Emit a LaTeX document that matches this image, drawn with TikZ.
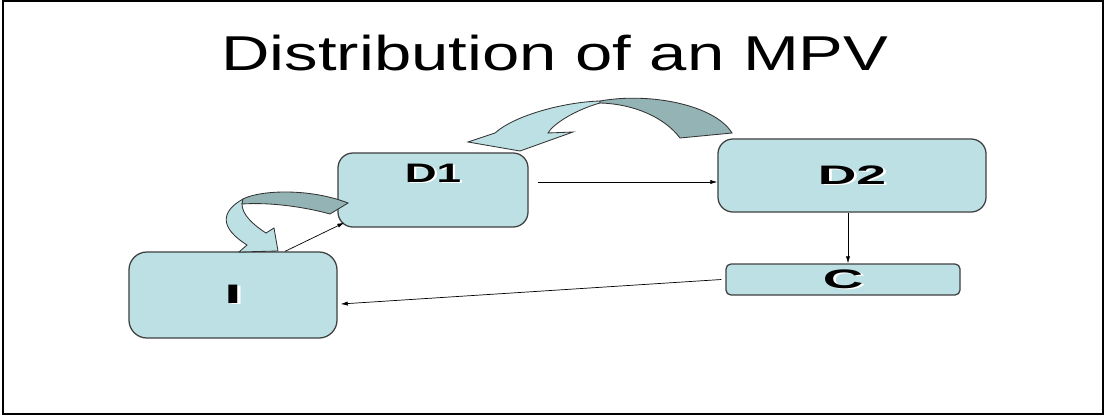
\documentclass[tikz,border=0pt]{standalone}
\usepackage{fontspec}
\setmainfont{Liberation Sans}
\usepackage{tikz}
\usepackage{xcolor}
\usetikzlibrary{arrows.meta}
\definecolor{paleteal}{RGB}{188,224,227}
\definecolor{darkteal}{RGB}{148,179,181}
\newcommand{\emboss}[1]{\makebox[0pt][l]{\hspace{1pt}\raisebox{-0.6pt}{\color{white}#1}}#1}

\begin{document}
\begin{tikzpicture}[x=0.025cm,y=-0.025cm,
	box/.style={draw=black!75,line width=0.9pt,fill=paleteal,inner sep=0pt,font=\fontsize{19}{19}\selectfont\bfseries},
	conn/.style={line width=0.5pt,-{Latex[length=5pt,width=3pt]}},
	ribbon/.style={draw=black!80,line width=0.6pt}]
	\useasboundingbox (0,0) rectangle (1104,416);
	\draw[line width=1.4pt] (3,1) rectangle (1103,414);
	\node[anchor=base] (title) at (555,70) {\fontsize{34.8}{36}\selectfont\scalebox{1.37}[1]{Distribution of an MPV}};
	% boxes
	\node[box,rounded corners=0.375cm,minimum width=4.75cm,minimum height=1.85cm,text depth=0.825cm] (d1) at (433,190) {\scalebox{1.65}[1]{\emboss{D1}}};
	\node[box,rounded corners=0.375cm,minimum width=6.7cm,minimum height=1.825cm] (d2) at (852,175.5) {\scalebox{2}[1]{\emboss{D2}}};
	\node[box,rounded corners=0.125cm,minimum width=5.85cm,minimum height=0.775cm] (c) at (843,279.5) {\scalebox{2.1}[1]{\emboss{C}}};
	\node[box,rounded corners=0.45cm,minimum width=5.2cm,minimum height=2.15cm] (i) at (233,295) {\scalebox{2.3}[1]{\emboss{I}}};
	% arrows
	\draw[conn] ([shift={(0.225cm,0.2cm)}]d1.east) coordinate (d1out) -- (d1out -| d2.west);
	\draw[conn] ([xshift=-0.1cm]d2.south) coordinate (d2out) -- (d2out |- c.north);
	\draw[conn] ([xshift=-0.1cm]c.west) -- ([shift={(0.075cm,-0.225cm)}]i.east);
	\draw[conn] ([xshift=1.3cm]i.north) -- ([shift={(0.175cm,0.125cm)}]d1.south west);
	% curved block arrows
	\draw[ribbon,fill=paleteal] (600,101) .. controls (565,102) and (515,115) .. (495,133) -- (468,142) -- (520,151) -- (573,132) -- (548,133) .. controls (553,124) and (575,110) .. (600,103) -- cycle;
	\draw[ribbon,fill=darkteal] (600,101) .. controls (650,92) and (715,105) .. (732,133) -- (680,138) .. controls (665,118) and (635,104) .. (600,103) -- cycle;
	\draw[ribbon,fill=paleteal] (243,199) .. controls (220,212) and (220,228) .. (247,245) -- (239,252) -- (278,251) -- (274,228) -- (266,233) .. controls (252,224) and (242,214) .. (242,204) -- cycle;
	\draw[ribbon,fill=darkteal] (243,199) .. controls (260,190) and (310,188) .. (348,203) -- (330,214) .. controls (305,207) and (270,202) .. (242,204) -- cycle;
\end{tikzpicture}
\end{document}
